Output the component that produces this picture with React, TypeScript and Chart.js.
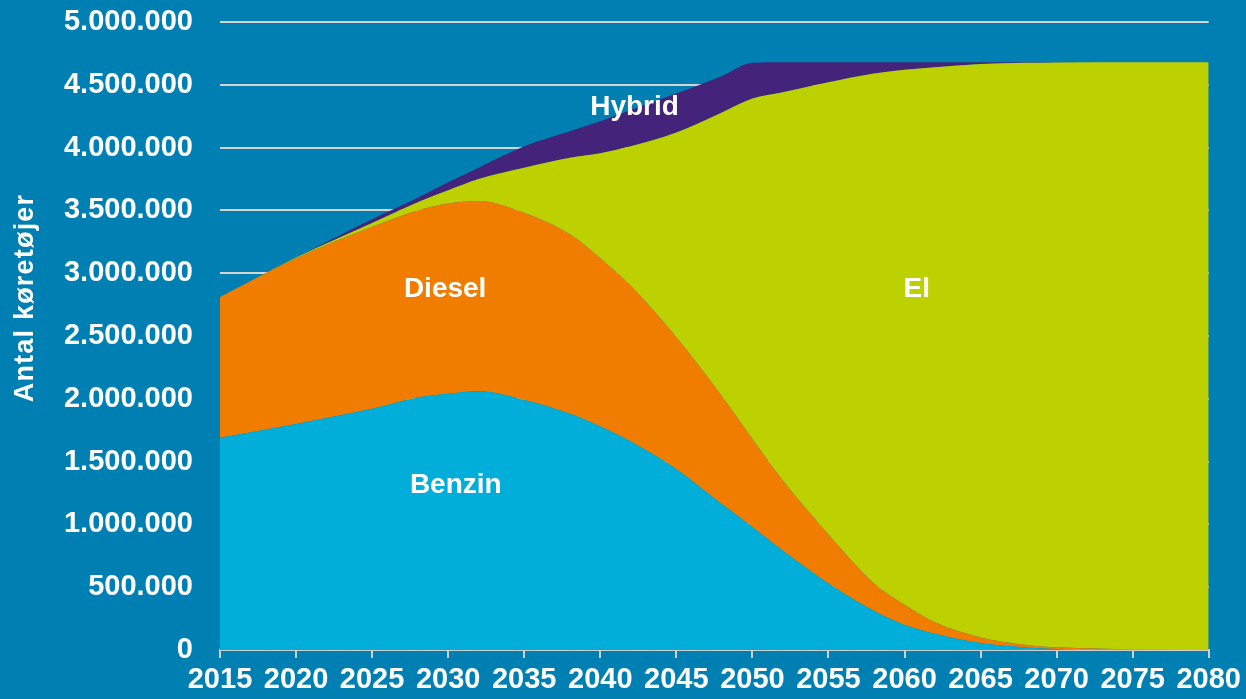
import React, { useEffect, useRef } from "react";
import { Chart, registerables } from "chart.js";

Chart.register(...registerables);

const years = [2015, 2020, 2025, 2028, 2030, 2032, 2035, 2038, 2040, 2042, 2045, 2048, 2050, 2052, 2055, 2058, 2060, 2062, 2065, 2068, 2070, 2075, 2080];

const benzin = [1690000, 1800000, 1920000, 2010000, 2040000, 2060000, 1990000, 1880000, 1780000, 1660000, 1440000, 1160000, 980000, 790000, 530000, 310000, 200000, 130000, 55000, 20000, 8000, 2000, 0];
const diesel = [1120000, 1320000, 1450000, 1490000, 1515000, 1515000, 1490000, 1430000, 1340000, 1240000, 1050000, 860000, 700000, 560000, 390000, 220000, 160000, 90000, 45000, 20000, 13000, 3000, 0];
const el = [0, 5000, 30000, 65000, 105000, 175000, 360000, 610000, 835000, 1110000, 1630000, 2260000, 2710000, 3090000, 3600000, 4060000, 4260000, 4420000, 4565000, 4635000, 4657000, 4675000, 4680000];
const hybrid = [0, 0, 30000, 35000, 65000, 90000, 170000, 210000, 255000, 290000, 310000, 290000, 285000, 240000, 160000, 90000, 60000, 40000, 15000, 5000, 2000, 0, 0];

const seriesNames = ["Benzin", "Diesel", "El", "Hybrid"];
const seriesColors = ["#00AED9", "#F07D00", "#BDD000", "#44247A"];

const yTicks = [0, 500000, 1000000, 1500000, 2000000, 2500000, 3000000, 3500000, 4000000, 4500000, 5000000];

const areaLabels = ["Hybrid", "Diesel", "El", "Benzin"];
const areaLabelYears = [2042.25, 2029.8, 2060.8, 2030.5];
const areaLabelValues = [4323000, 2874000, 2874000, 1314000];

const yAxisTitle = "Antal køretøjer";

const fmt = (v: number) => String(Math.round(v)).replace(/\B(?=(\d{3})+(?!\d))/g, ".");

export default function App() {
  const ref = useRef<HTMLCanvasElement | null>(null);

  useEffect(() => {
    if (!ref.current) return;
    Chart.defaults.font.family = "'Liberation Sans', Arial, sans-serif";
    const allSeries = [benzin, diesel, el, hybrid];
    const labelPlugin = {
      id: "areaLabels",
      afterDatasetsDraw(chart: any) {
        const { ctx, scales } = chart;
        ctx.save();
        ctx.fillStyle = "#FFFFFF";
        ctx.font = "bold 28px 'Liberation Sans', Arial, sans-serif";
        ctx.textAlign = "center";
        ctx.textBaseline = "middle";
        areaLabels.forEach((t, i) => {
          const x = scales.x.getPixelForValue(areaLabelYears[i]);
          const y = scales.y.getPixelForValue(areaLabelValues[i]);
          ctx.fillText(t, x, y);
        });
        ctx.translate(26, 298);
        ctx.rotate(-Math.PI / 2);
        ctx.font = "bold 27px 'Liberation Sans', Arial, sans-serif";
        try {
          (ctx as any).letterSpacing = "1.2px";
        } catch (e) {}
        ctx.fillText(yAxisTitle, 0, 0);
        ctx.restore();
      },
    };
    const chart = new Chart(ref.current, {
      type: "line",
      data: {
        datasets: allSeries.map((s, i) => ({
          label: seriesNames[i],
          data: years.map((yr, j) => ({ x: yr, y: s[j] })),
          backgroundColor: seriesColors[i],
          borderColor: seriesColors[i],
          borderWidth: 0,
          pointRadius: 0,
          fill: i === 0 ? "origin" : "-1",
          cubicInterpolationMode: "monotone" as const,
        })),
      },
      options: {
        responsive: false,
        animation: false,
        layout: { padding: { top: 22, right: 36, left: 0, bottom: 0 } },
        plugins: { legend: { display: false }, tooltip: { enabled: false } },
        scales: {
          x: {
            type: "linear",
            min: 2015,
            max: 2080,
            afterFit: (s: any) => {
              s.height = 49;
            },
            ticks: {
              stepSize: 5,
              color: "#FFFFFF",
              font: { size: 29, weight: "bold" },
              padding: 5,
              maxRotation: 0,
              autoSkip: false,
              callback: (v: any) => String(v),
            },
            grid: { drawOnChartArea: false, drawTicks: true, tickLength: 8, color: "#CFCFCF", lineWidth: 2 },
            border: { display: true, color: "#CFCFCF", width: 2 },
          },
          y: {
            stacked: true,
            min: 0,
            max: 5000000,
            afterFit: (s: any) => {
              s.width = 220;
              s.paddingTop = 0;
              s.paddingBottom = 0;
            },
            afterBuildTicks: (s: any) => {
              s.ticks = yTicks.map((v) => ({ value: v }));
            },
            ticks: {
              color: "#FFFFFF",
              font: { size: 29, weight: "bold" },
              padding: 27,
              callback: (v: any) => fmt(Number(v)),
            },
            grid: { drawTicks: false, color: "#D4D4D4", lineWidth: 2 },
            border: { display: false },
          },
        },
      },
      plugins: [labelPlugin],
    });
    return () => chart.destroy();
  }, []);

  return (
    <div style={{ position: "absolute", left: 0, top: 0, width: 1246, height: 699, background: "#0080B2" }}>
      <canvas ref={ref} width={1246} height={699} />
    </div>
  );
}
